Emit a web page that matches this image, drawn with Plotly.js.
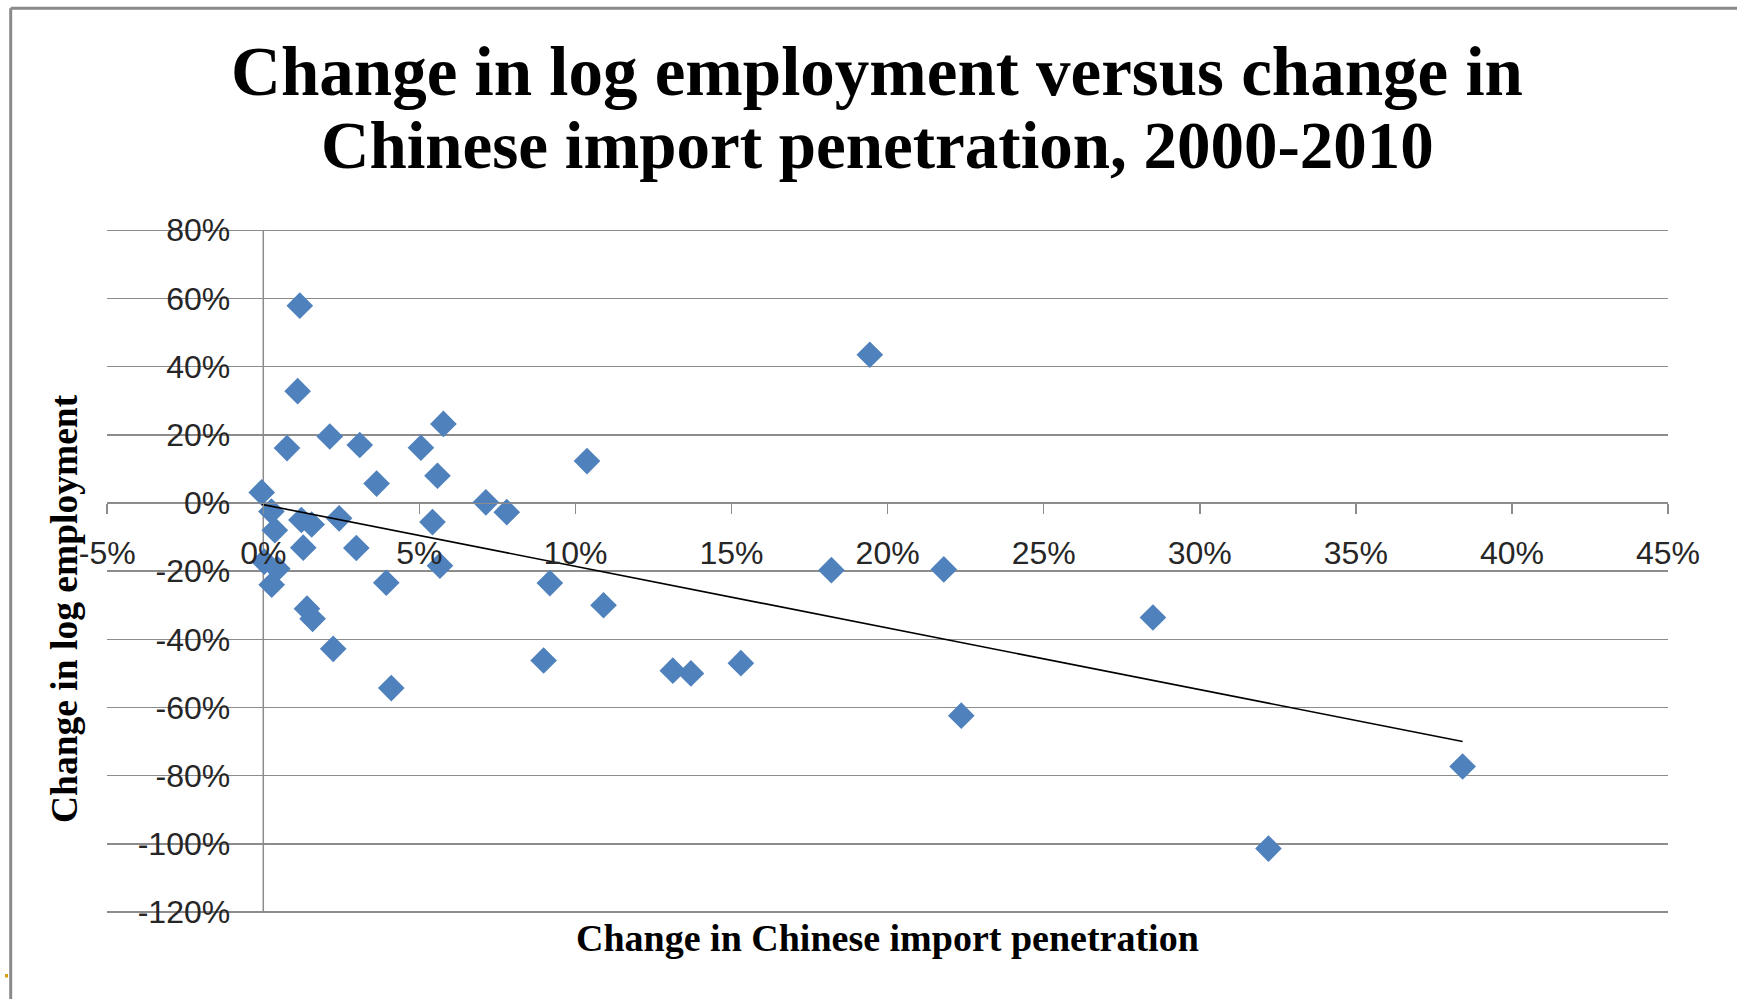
<!DOCTYPE html>
<html>
<head>
<meta charset="utf-8">
<script src="https://cdn.plot.ly/plotly-3.0.1.min.js"></script>
<style>
  html, body { margin: 0; padding: 0; background: #ffffff; }
  #chart { width: 1737px; height: 999px; }
</style>
</head>
<body>
<div id="chart"></div>
<script>
// Change in Chinese import penetration (x, %) and change in log employment (y, %) by industry
const importChange = [
  1.17, 1.10, 0.76, 2.13, 3.09, 5.05, 5.77, 3.63, 5.58, 10.37,
  19.43, -0.05, 7.13, 7.80, 0.26, 0.37, 1.22, 1.55, 2.43, 5.42,
  1.28, 2.98, 0.03, 0.45, 0.27, 3.94, 5.66, 9.18, 10.90, 1.40,
  1.58, 2.24, 4.10, 8.98, 13.12, 13.70, 15.30, 18.20, 21.80, 22.36,
  28.50, 32.20, 38.42
];
const employmentChange = [
  57.9, 32.8, 16.1, 19.5, 17.0, 16.2, 23.2, 5.7, 8.0, 12.3,
  43.5, 3.1, 0.2, -2.7, -2.5, -8.0, -5.0, -6.3, -4.5, -5.6,
  -13.1, -13.2, -17.2, -19.3, -24.0, -23.4, -18.4, -23.5, -30.0, -31.0,
  -34.0, -42.8, -54.3, -46.2, -49.2, -50.0, -47.0, -19.7, -19.5, -62.4,
  -33.6, -101.4, -77.3
];

// Linear trend line end points
const trendX = [-0.05, 38.42];
const trendY = [-0.4, -70.0];

// Axis ticks
const xTickVals = [-5, 0, 5, 10, 15, 20, 25, 30, 35, 40, 45];
const xTickText = ['-5%', '0%', '5%', '10%', '15%', '20%', '25%', '30%', '35%', '40%', '45%'];
const yTickVals = [-120, -100, -80, -60, -40, -20, 0, 20, 40, 60, 80];
const yTickText = ['-120%', '-100%', '-80%', '-60%', '-40%', '-20%', '0%', '20%', '40%', '60%', '80%'];

const titleLine1 = 'Change in log employment versus change in';
const titleLine2 = 'Chinese import penetration, 2000-2010';
const xTitle = 'Change in Chinese import penetration';
const yTitle = 'Change in log employment';

const W = 1737, H = 999;
const px = v => v / W;          // horizontal pixel -> paper fraction
const py = v => 1 - v / H;      // vertical pixel (from top) -> paper fraction

// vertical scale: 80% sits at 230.3 px, -120% at 912 px; range padded slightly
// so the outermost gridlines are still drawn
const yPxPerUnit = (912 - 230.3) / 200;
const yPad = 0.4;

const serif = 'Liberation Serif, Times New Roman, serif';
const sans = 'Liberation Sans, Arial, sans-serif';
const gridGray = '#8c8c8c';

const traces = [
  {
    type: 'scatter',
    mode: 'markers',
    x: importChange,
    y: employmentChange,
    marker: { symbol: 'diamond', size: 20.5, color: '#4f81bd', line: { width: 0 } },
    hoverinfo: 'x+y',
    showlegend: false
  },
  {
    type: 'scatter',
    mode: 'lines',
    x: trendX,
    y: trendY,
    line: { color: '#000000', width: 1.6 },
    hoverinfo: 'skip',
    showlegend: false
  }
];

const layout = {
  width: W,
  height: H,
  margin: { l: 0, r: 0, t: 0, b: 0, pad: 0 },
  paper_bgcolor: '#ffffff',
  plot_bgcolor: '#ffffff',
  showlegend: false,
  title: {
    text: titleLine1,
    font: { family: serif, size: 69, color: '#000000', weight: 'bold' },
    xref: 'paper', x: px(877), xanchor: 'center',
    yref: 'container', y: py(71), yanchor: 'middle'
  },
  xaxis: {
    range: [-5, 45],
    domain: [px(107.2), px(1668)],
    anchor: 'free',
    position: py(502.7),
    showgrid: false,
    zeroline: false,
    showline: true,
    linecolor: gridGray,
    linewidth: 1.5,
    ticks: 'outside',
    ticklen: 10,
    tickwidth: 1.5,
    tickcolor: gridGray,
    tickmode: 'array',
    tickvals: xTickVals,
    ticktext: xTickText,
    tickfont: { family: sans, size: 32, color: '#262626' },
    ticklabelstandoff: 11,
    fixedrange: true
  },
  yaxis: {
    range: [-120 - yPad, 80 + yPad],
    domain: [py(912 + yPad * yPxPerUnit), py(230.3 - yPad * yPxPerUnit)],
    anchor: 'free',
    position: px(263.2),
    showgrid: true,
    gridcolor: gridGray,
    gridwidth: 1.5,
    zeroline: false,
    showline: false,
    ticks: '',
    tickmode: 'array',
    tickvals: yTickVals,
    ticktext: yTickText,
    tickfont: { family: sans, size: 32, color: '#262626' },
    ticklabelstandoff: 33,
    fixedrange: true
  },
  annotations: [
    {
      text: titleLine2,
      xref: 'paper', yref: 'paper',
      x: px(877), y: py(145), xanchor: 'center', yanchor: 'middle',
      showarrow: false,
      font: { family: serif, size: 67, color: '#000000', weight: 'bold' }
    },
    {
      text: xTitle,
      xref: 'paper', yref: 'paper',
      x: px(888), y: py(938), xanchor: 'center', yanchor: 'middle',
      showarrow: false,
      font: { family: serif, size: 38, color: '#000000', weight: 'bold' }
    },
    {
      text: yTitle,
      xref: 'paper', yref: 'paper',
      x: px(64), y: py(609), xanchor: 'center', yanchor: 'middle',
      textangle: -90,
      showarrow: false,
      font: { family: serif, size: 37.5, color: '#000000', weight: 'bold' }
    }
  ],
  shapes: [
    // vertical axis line at x = 0, from -120% up to 80%
    { type: 'line', xref: 'x', yref: 'y', x0: 0, x1: 0, y0: -120, y1: 80,
      line: { color: gridGray, width: 1.5 }, layer: 'below' },
    // chart frame (top and left edges)
    { type: 'line', xref: 'paper', yref: 'paper', x0: px(10.7), x1: 1.01, y0: py(8.3), y1: py(8.3),
      line: { color: '#8a8a8a', width: 3 } },
    { type: 'line', xref: 'paper', yref: 'paper', x0: px(10.7), x1: px(10.7), y0: py(8.3), y1: -0.01,
      line: { color: '#8a8a8a', width: 3 } },
    // small marker at the lower left edge
    { type: 'rect', xref: 'paper', yref: 'paper', x0: px(5), x1: px(8), y0: py(977.5), y1: py(974),
      fillcolor: '#d6a010', line: { width: 0 } }
  ]
};

Plotly.newPlot('chart', traces, layout, { displayModeBar: false, staticPlot: true });
</script>
</body>
</html>
